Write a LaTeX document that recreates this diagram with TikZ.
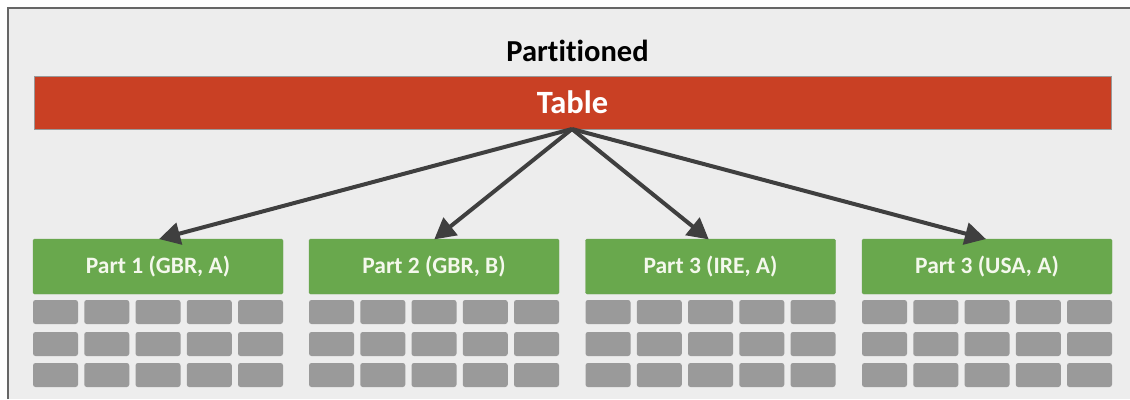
\documentclass[tikz,border=0pt]{standalone}
\usepackage{fontspec}
\setmainfont{Carlito}[Ligatures=NoCommon]
\usetikzlibrary{arrows.meta}
\definecolor{panel}{HTML}{EDEDED}
\definecolor{frame}{HTML}{666666}
\definecolor{tablered}{HTML}{C94024}
\definecolor{partgreen}{HTML}{69A84D}
\definecolor{cellgray}{HTML}{9A9A9A}
\definecolor{arrowgray}{HTML}{3F3F3F}
\definecolor{labelwhite}{HTML}{F4F8EC}
\tikzset{
  x=1pt, y=-1pt,
  partbox/.style={fill=partgreen, draw=partgreen!85!gray, line width=0.4pt, rounded corners=1.5pt,
    minimum width=250pt, minimum height=55pt, inner sep=0pt,
    text=labelwhite, font=\bfseries\fontsize{23.5}{26}\selectfont},
  cell/.style={fill=cellgray, rounded corners=2.5pt, minimum width=45pt, minimum height=24pt, inner sep=0pt},
  link/.style={draw=arrowgray, line width=4pt, -{Triangle[length=21pt,width=22pt]}, shorten >=-1pt}
}
\begin{document}
\begin{tikzpicture}
  \useasboundingbox (0,0) rectangle (1130,399);
  \fill[white] (0,0) rectangle (1130,399);
  % panel with frame on the left and top
  \fill[panel] (8,8) rectangle (1130,399);
  \draw[frame, line width=2pt] (8,399) -- (8,8) -- (1130,8);
  % title
  \node[font=\bfseries\fontsize{30.5}{34}\selectfont, text=black] (title) at (577.5,51) {Partitioned};
  % table bar
  \node[fill=tablered, draw=gray!80, line width=0.6pt, minimum width=1077pt, minimum height=53pt, inner sep=0pt,
        text=white, font=\bfseries\fontsize{32.5}{36}\selectfont] (table) at (572.5,102.5) {Table};
  \coordinate (src) at (572,129);
  % partitions
  \foreach \i/\x/\lbl in {1/158/{Part 1 (GBR, A)}, 2/434/{Part 2 (GBR, B)}, 3/710.5/{Part 3 (IRE, A)}, 4/987/{Part 3 (USA, A)}} {
    \node[partbox] (p\i) at (\x,266.5) {\lbl};
    \foreach \c in {1,...,5} {
      \foreach \r/\y in {1/312, 2/344, 3/375} {
        \node[cell] (c\i-\r-\c) at ({\x-125+22.5+(\c-1)*51.25}, \y) {};
      }
    }
  }
  % arrows from the table to each partition
  \draw[link] (src) -- (p1.north -| 160,0);
  \draw[link] (src) -- (p2.north -| 435,0);
  \draw[link] (src) -- (p3.north -| 708,0);
  \draw[link] (src) -- (p4.north -| 985,0);
\end{tikzpicture}
\end{document}
